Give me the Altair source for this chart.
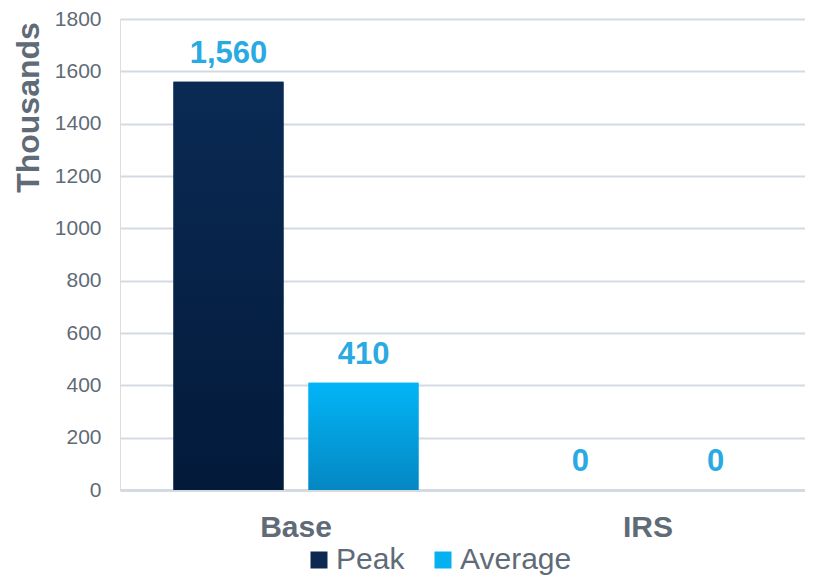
import altair as alt
import pandas as pd

categories = ["Base", "Base", "IRS", "IRS"]
series = ["Peak", "Average", "Peak", "Average"]
values = [1560, 410, 0, 0]

df = pd.DataFrame({"category": categories, "series": series, "value": values})

FONT = "Liberation Sans"
GREY = "#5f6b77"
order = ["Peak", "Average"]

x_enc = alt.X("category:N", sort=["Base", "IRS"], title=None,
              scale=alt.Scale(paddingInner=0, paddingOuter=0, range=[0, 704]),
              axis=alt.Axis(labelFontSize=30, labelFontWeight="bold", labelColor=GREY,
                            labelFont=FONT, labelPadding=22, ticks=False, labelAngle=0,
                            domainColor="#d3dae1", domainWidth=3, grid=False))
xo_enc = alt.XOffset("series:N", sort=order,
                     scale=alt.Scale(paddingInner=0.185, paddingOuter=0.396))
y_enc = alt.Y("value:Q", title="Thousands",
              scale=alt.Scale(domain=[0, 1800]),
              axis=alt.Axis(values=list(range(0, 1801, 200)), format="d",
                            labelFontSize=21, labelColor=GREY,
                            labelFont=FONT, labelPadding=19, ticks=False, domain=False,
                            gridColor="#d3dae1", gridWidth=2,
                            titleFontSize=32, titleFontWeight="bold", titleColor=GREY,
                            titleFont=FONT, titlePadding=9, titleY=88, titleAlign="center"))

base = alt.Chart(df)

bars = base.mark_bar().encode(
    x=x_enc, xOffset=xo_enc, y=y_enc,
    color=alt.Color("series:N", sort=order,
                    scale=alt.Scale(domain=order, range=["#0a2850", "#05b0f0"]),
                    legend=alt.Legend(title=None, orient="none", legendX=184, legendY=526,
                                      direction="horizontal", labelFontSize=30,
                                      labelColor=GREY, labelFont=FONT, symbolType="square",
                                      symbolSize=289, symbolStrokeWidth=0, columnPadding=23,
                                      labelOffset=2)),
)

grad_peak = alt.Gradient(gradient="linear", x1=0, y1=0, x2=0, y2=1,
                         stops=[alt.GradientStop(color="#0a2a54", offset=0),
                                alt.GradientStop(color="#031a3a", offset=1)])
grad_avg = alt.Gradient(gradient="linear", x1=0, y1=0, x2=0, y2=1,
                        stops=[alt.GradientStop(color="#02b5f7", offset=0),
                               alt.GradientStop(color="#0587c3", offset=1)])

peak_layer = base.mark_bar(color=grad_peak).encode(
    x=x_enc, xOffset=xo_enc, y=y_enc,
).transform_filter(alt.datum.series == "Peak")
avg_layer = base.mark_bar(color=grad_avg).encode(
    x=x_enc, xOffset=xo_enc, y=y_enc,
).transform_filter(alt.datum.series == "Average")

labels = base.mark_text(dy=-28, fontSize=31, fontWeight="bold", color="#2aaae2",
                        font=FONT, baseline="middle").encode(
    x=x_enc, xOffset=xo_enc, y=y_enc,
    text=alt.Text("value:Q", format=",.0f"),
)

chart = alt.layer(bars, peak_layer, avg_layer, labels).properties(
    width=685, height=471,
    autosize=alt.AutoSizeParams(type="none"),
    padding={"left": 112, "top": 11, "right": 0, "bottom": 86},
).configure_view(fill="#e4e9ee", stroke=None).configure(background="white")

chart.save("out.html", embed_options={"renderer": "svg", "actions": False})
